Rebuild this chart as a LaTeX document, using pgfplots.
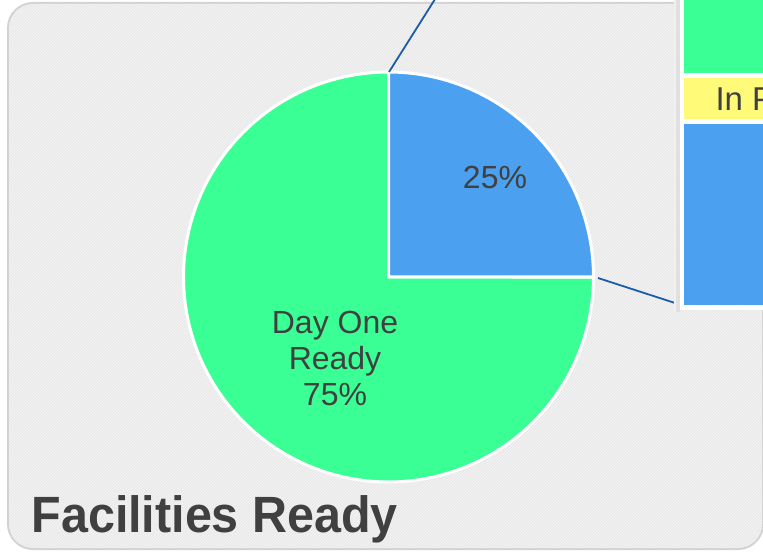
\documentclass[border=0pt]{standalone}
\usepackage{pgfplots}
\pgfplotsset{compat=1.18}
\usepackage{fontspec}
\setmainfont{Liberation Sans}
\usetikzlibrary{patterns}
\definecolor{pieblue}{HTML}{4BA0F0}
\definecolor{piegreen}{HTML}{3AFF94}
\definecolor{inyellow}{HTML}{FFFA78}
\definecolor{txt}{HTML}{404040}
\definecolor{conn}{HTML}{1A5CA8}
\definecolor{bgfill}{HTML}{EAEAEA}
\definecolor{bgline}{HTML}{F6F6F6}
\definecolor{frame}{HTML}{D2D2D2}
% pie centre and radius (pixel units)
\def\cx{388.5}
\def\cy{275}
\def\R{205}
\begin{document}
\begin{tikzpicture}
\begin{axis}[
  x=1pt, y=1pt,
  xmin=0, xmax=763, ymin=0, ymax=552,
  hide axis, clip=true,
  scale only axis,
]
% background card
\fill[frame] (axis cs:7,2) [rounded corners=26pt] rectangle (axis cs:764,550);
\fill[bgfill, postaction={pattern=north east lines, pattern color=bgline}]
  (axis cs:9,4) [rounded corners=24pt] rectangle (axis cs:762,548);
% pie: Day One Ready 75%, In Progress 25%
\addplot[fill=piegreen, draw=white, line width=3pt, domain=90:360, samples=120]
  ({\cx+\R*cos(x)},{\cy+\R*sin(x)}) -- (axis cs:\cx,\cy) -- cycle;
\addplot[fill=pieblue, draw=white, line width=3pt, domain=0:90, samples=60]
  ({\cx+\R*cos(x)},{\cy+\R*sin(x)}) -- (axis cs:\cx,\cy) -- cycle;
% connector lines
\addplot[conn, line width=1.8pt] coordinates {(389,480) (437,556)};
\addplot[conn, line width=1.8pt] coordinates {(598,274) (675,249)};
% bar-of-pie panel (shadow + white box)
\addplot[fill=black!12, draw=none] coordinates {(676,240) (680,240) (680,560) (676,560)} -- cycle;
\addplot[fill=black!6, draw=none] coordinates {(674,240) (676,240) (676,560) (674,560)} -- cycle;
\addplot[fill=white, draw=none] coordinates {(680,242) (800,242) (800,560) (680,560)} -- cycle;
\addplot[fill=piegreen, draw=none] coordinates {(684,479) (800,479) (800,560) (684,560)} -- cycle;
\addplot[fill=inyellow, draw=none] coordinates {(684,433) (800,433) (800,474) (684,474)} -- cycle;
\addplot[fill=pieblue, draw=none] coordinates {(684,247) (800,247) (800,428) (684,428)} -- cycle;
% labels
\node[txt, font=\fontsize{33}{36}\selectfont, anchor=base west] at (axis cs:712,441) {In Progress};
\node[txt, font=\fontsize{32}{36}\selectfont] at (axis cs:495,375) {25\%};
\node[txt, font=\fontsize{32}{36}\selectfont, align=center] at (axis cs:335,194) {Day One\\Ready\\75\%};
\node[txt, font=\fontsize{51}{60}\selectfont\bfseries, anchor=base west] at (axis cs:28,20) {\scalebox{0.95}[1]{Facilities Ready}};
\end{axis}
\pgfresetboundingbox
\path[use as bounding box] (current axis.south west) rectangle (current axis.north east);
\end{tikzpicture}
\end{document}
